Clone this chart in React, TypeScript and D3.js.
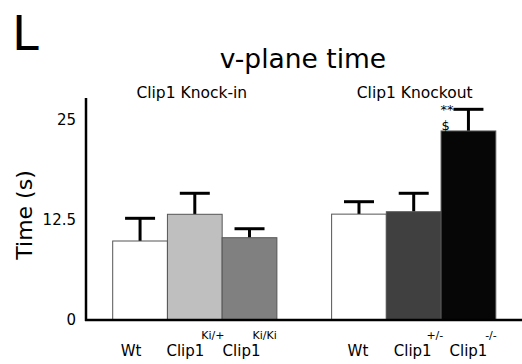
import React from "react";
import * as d3 from "d3";

const groups = ["Clip1 Knock-in", "Clip1 Knockout"];
const categories = ["Wt", "Clip1 Ki/+", "Clip1 Ki/Ki", "", "Wt ", "Clip1 +/-", "Clip1 -/-"];
const labelMain = ["Wt", "Clip1", "Clip1", "", "Wt", "Clip1", "Clip1"];
const labelSup = ["", "Ki/+", "Ki/Ki", "", "", "+/-", "-/-"];
const means = [9.85, 13.18, 10.26, NaN, 13.2, 13.5, 23.57];
const errTop = [12.68, 15.8, 11.38, NaN, 14.75, 15.8, 26.27];
const fills = ["#ffffff", "#bfbfbf", "#808080", "none", "#ffffff", "#404040", "#060606"];
const yTicks = [0, 12.5, 25];
const yTickLabels = ["0", "12.5", "25"];

const W = 522;
const H = 364;
const FONT = "DejaVu Sans, Verdana, sans-serif";

export default function App() {
  const x = d3.scaleBand<string>().domain(categories).range([112.7, 495.8]).padding(0);
  const y = d3.scaleLinear().domain([0, 25]).range([320, 119.5]);
  const bw = x.bandwidth();
  const capHalf = 15;
  const mainOff = [-9, -9.4, -8, 0, -1, -1, 0];
  const supOff = [0, 6.5, 3, 0, 0, 12.7, 16.7];
  const sigX = x(categories[6])!;

  return (
    <svg width={W} height={H} style={{ position: "absolute", left: 0, top: 0 }} fontFamily={FONT}>
      <rect width={W} height={H} fill="#fff" />
      <text x={12} y={50} fontSize={48} fill="#000">L</text>
      <text x={303} y={68} fontSize={26.5} textAnchor="middle" fill="#000">v-plane time</text>
      <text x={x(categories[1])! + bw / 2 - 3} y={98} fontSize={15.5} textAnchor="middle">{groups[0]}</text>
      <text x={x(categories[5])! + bw / 2 + 1} y={98} fontSize={15.5} textAnchor="middle">{groups[1]}</text>
      <text transform={`translate(32,215) rotate(-90)`} fontSize={22} textAnchor="middle">Time (s)</text>
      {yTicks.map((t, i) => (
        <text key={i} x={76} y={y(t)} dy="0.35em" fontSize={15} textAnchor="end">{yTickLabels[i]}</text>
      ))}
      {categories.map((c, i) =>
        isNaN(means[i]) ? null : (
          <g key={"b" + i}>
            <line x1={x(c)! + bw / 2} x2={x(c)! + bw / 2} y1={y(means[i])} y2={y(errTop[i])} stroke="#000" strokeWidth={3} />
            <line x1={x(c)! + bw / 2 - capHalf} x2={x(c)! + bw / 2 + capHalf} y1={y(errTop[i])} y2={y(errTop[i])} stroke="#000" strokeWidth={3} />
            <rect x={x(c)!} y={y(means[i])} width={bw} height={y(0) - y(means[i])} fill={fills[i]} stroke="#555" strokeWidth={1} />
          </g>
        )
      )}
      <text x={sigX + 6} y={y(errTop[6]) + 4.5} fontSize={13} textAnchor="middle">**</text>
      <text x={sigX + 4.5} y={y(errTop[6]) + 21} fontSize={13} textAnchor="middle">$</text>
      <line x1={86} x2={86} y1={98} y2={321} stroke="#000" strokeWidth={2.5} />
      <line x1={85} x2={522} y1={320} y2={320} stroke="#000" strokeWidth={2.5} />
      {categories.map((c, i) =>
        labelMain[i] === "" ? null : (
          <g key={"l" + i}>
            <text x={x(c)! + bw / 2 + mainOff[i]} y={356} fontSize={15} textAnchor="middle">{labelMain[i]}</text>
            {labelSup[i] && (
              <text x={x(c)! + bw / 2 + supOff[i]} y={339} fontSize={11}>{labelSup[i]}</text>
            )}
          </g>
        )
      )}
    </svg>
  );
}
